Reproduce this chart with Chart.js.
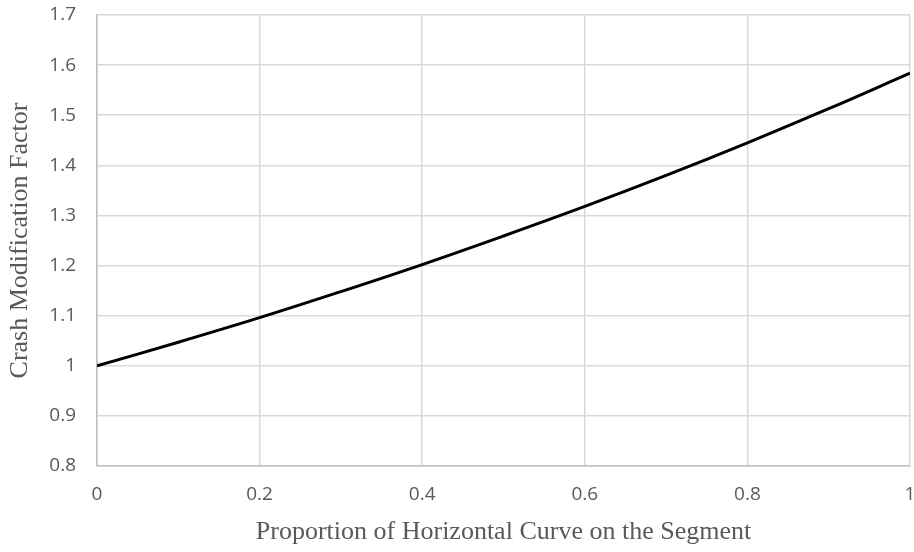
<!DOCTYPE html>
<html>
<head>
<meta charset="utf-8">
<script src="https://cdn.jsdelivr.net/npm/chart.js@4"></script>
<style>
  html, body { margin: 0; padding: 0; background: #fff; }
  #wrap { width: 914px; height: 552px; }
</style>
</head>
<body>
<div id="wrap"><canvas id="cmfChart" width="914" height="552"></canvas></div>
<script>
// proportion of curve on the segment, and the CMF
const proportion = [0, 0.1, 0.2, 0.3, 0.4, 0.5, 0.6, 0.7, 0.8, 0.9, 1.0];
const cmfValues = [1.0, 1.047, 1.096, 1.148, 1.202, 1.259, 1.318, 1.380, 1.445, 1.513, 1.584];

const xTitle = 'Proportion of Horizontal Curve on the Segment';
const yTitle = 'Crash Modification Factor';

const points = proportion.map((x, i) => ({ x: x, y: cmfValues[i] }));

const gridColor = '#d9d9d9';
const textColor = '#595959';
const tickFont = { family: 'Open Sans', size: 19 };
const titleFont = { family: 'Liberation Serif', size: 26 };

// strip trailing zeros: 1.0 -> 1
const fmt = (v) => String(Math.round(v * 10) / 10);

const config = {
  type: 'scatter',
  data: {
    datasets: [{
      data: points,
      showLine: true,
      borderColor: '#000',
      borderWidth: 3,
      pointRadius: 0,
      tension: 0.4,
      fill: false
    }]
  },
  options: {
    responsive: false,
    animation: false,
    layout: { padding: { top: 15, right: 4, left: 0, bottom: 0 } },
    plugins: { legend: { display: false }, tooltip: { enabled: false } },
    scales: {
      x: {
        type: 'linear',
        min: 0,
        max: 1,
        ticks: { stepSize: 0.2, color: textColor, font: tickFont, padding: 17, callback: fmt },
        grid: { color: gridColor, lineWidth: 1.5, drawTicks: false },
        border: { color: '#bfbfbf', width: 1.5 },
        title: { display: true, text: xTitle, color: textColor, font: titleFont, padding: { top: 6 } },
        afterFit: (scale) => {
          scale.height = 86;
          scale.paddingLeft = 0;
          scale.paddingRight = 0;
        }
      },
      y: {
        min: 0.8,
        max: 1.7,
        ticks: { stepSize: 0.1, color: textColor, font: tickFont, padding: 21, callback: fmt },
        grid: { color: gridColor, lineWidth: 1.5, drawTicks: false },
        border: { color: '#bfbfbf', width: 1.5 },
        title: { display: true, text: yTitle, color: textColor, font: titleFont, padding: { top: 5, bottom: 0 } },
        afterFit: (scale) => {
          scale.width = 97;
          scale.paddingTop = 0;
          scale.paddingBottom = 0;
        }
      }
    }
  }
};

new Chart(document.getElementById('cmfChart'), config);
</script>
</body>
</html>
